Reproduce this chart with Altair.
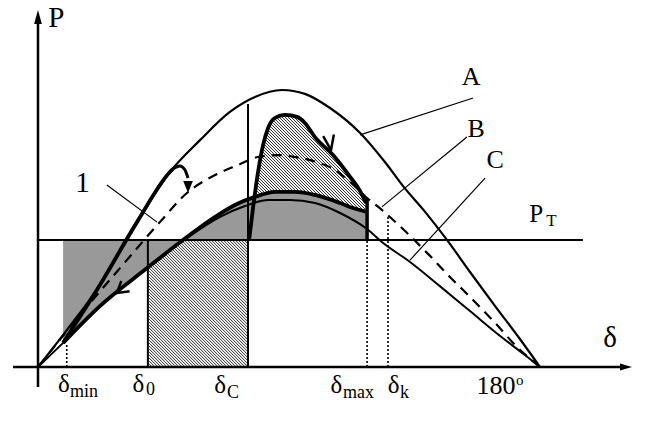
import altair as alt
import pandas as pd

# ---------------- data: load angle (deg) and power (relative, peak of A = 1) --------------
a_deg = [0, 10.4, 22.2, 35.5, 47.3, 58.1, 68.8, 77.8, 87.5, 95.7, 104.7, 115.5, 124.4, 130.9, 138.8, 146.7, 154.9, 163.9, 172.8, 180]
a_p = [0, 0.134, 0.296, 0.523, 0.704, 0.819, 0.921, 0.975, 1.0, 0.986, 0.935, 0.845, 0.740, 0.653, 0.560, 0.458, 0.343, 0.220, 0.101, 0]

b_deg = [0, 15.1, 29.4, 43.7, 53.4, 63.5, 71.7, 78.9, 86.1, 92.2, 98.6, 106.5, 111.9, 118.0, 123.3, 131.6, 139.5, 147.7, 156.0, 163.9, 171.8, 180]
b_p = [0, 0.188, 0.357, 0.523, 0.628, 0.693, 0.729, 0.758, 0.765, 0.758, 0.744, 0.711, 0.668, 0.610, 0.567, 0.491, 0.412, 0.325, 0.242, 0.159, 0.072, 0]

c_deg = [0, 9.0, 22.2, 39.1, 53.4, 65.3, 74.2, 82.5, 90.4, 99.3, 108.3, 118.0, 123.3, 133.4, 144.1, 154.9, 165.7, 174.6, 180]
c_p = [0, 0.087, 0.220, 0.357, 0.466, 0.542, 0.581, 0.603, 0.603, 0.592, 0.556, 0.498, 0.451, 0.379, 0.292, 0.202, 0.112, 0.043, 0]

# trajectory pieces (thick lines)
low_deg = [9.0, 22.2, 39.1, 53.4, 63.5, 70.6, 77.8, 85.0, 92.2, 99.3, 108.3, 112.9, 118.0]
low_p = [0.087, 0.220, 0.357, 0.469, 0.542, 0.585, 0.614, 0.632, 0.632, 0.621, 0.592, 0.574, 0.560]

hump_deg = [75.7, 77.1, 78.9, 80.7, 82.5, 85.0, 88.6, 92.9, 95.7, 99.3, 105.8, 111.9, 115.5, 117.6]
hump_p = [0.458, 0.574, 0.704, 0.801, 0.863, 0.899, 0.910, 0.903, 0.881, 0.830, 0.765, 0.686, 0.635, 0.592]

up_deg = [9.0, 22.2, 35.5, 47.3, 48.4]
up_p = [0.087, 0.296, 0.523, 0.704, 0.715]

hook_deg = [48.4, 50.9, 52.7, 53.8]
hook_p = [0.715, 0.726, 0.711, 0.682]

PT = 0.4585
d_min, d_0, d_c, d_max, d_k = 10.3, 39.4, 75.3, 118.0, 125.5
dc_top = 0.949
b_at_dmax = 0.610
b_at_dk = 0.547
low_at_dmin = 0.087

# labels: (angle, power, text)
main_big = [(6.6, 1.227, "P"), (205.1, 0.072, "δ"), (15.96, 0.632, "1")]
curve_lbl = [(155.3, 1.018, "A"), (157.1, 0.830, "B"), (163.9, 0.718, "C")]
pt_lbl = [(178.6, 0.523, "P")]
pt_sub = [(182.2, 0.509, "Т")]
x_delta = [(9.3, -0.090, "δ"), (36.0, -0.090, "δ"), (65.3, -0.094, "δ"), (107.0, -0.094, "δ"), (127.5, -0.094, "δ")]
x_sub = [(11.5, -0.108, "min"), (38.7, -0.101, "0"), (67.8, -0.112, "C"), (109.4, -0.112, "max"), (129.8, -0.112, "k")]
x_180 = [(164.2, -0.097, "180")]
x_deg = [(171.4, -0.065, "o")]

# leader lines (from label to curve)
leaders = [(24.7, 0.657, 42.7, 0.523), (156.0, 0.971, 115.5, 0.838),
           (153.8, 0.830, 123.3, 0.578), (160.3, 0.682, 133.4, 0.386)]

# ---------------- frame ----------------
W, H = 651, 423
X0, X1 = -13.625, 219.8
Y0, Y1 = -0.2022, 1.3249
xs = alt.Scale(domain=[X0, X1], nice=False, zero=False)
ys = alt.Scale(domain=[Y0, Y1], nice=False, zero=False)


def X(f="x"):
    return alt.X(f, type="quantitative", scale=xs, axis=None)


def Y(f="y"):
    return alt.Y(f, type="quantitative", scale=ys, axis=None)


def to_px(d):
    return (d - X0) / (X1 - X0) * W


def to_py(p):
    return (Y1 - p) / (Y1 - Y0) * H


def from_px(px):
    return X0 + px / W * (X1 - X0)


def from_py(py):
    return Y1 - py / H * (Y1 - Y0)


def hatch(d_lo, d_hi, p_lo, p_hi, step=3.0):
    x0, x1 = to_px(d_lo), to_px(d_hi)
    y0, y1 = to_py(p_hi), to_py(p_lo)
    rows = []
    c = y0 - x1
    while c < y1 - x0:
        sx = max(x0, y0 - c)
        ex = min(x1, y1 - c)
        if ex > sx:
            rows.append((from_px(sx), from_py(sx + c), from_px(ex), from_py(ex + c)))
        c += step
    return rows


def curve(deg, p, **mk):
    df = pd.DataFrame({"x": deg, "y": p})
    return alt.Chart(df).mark_line(interpolate="monotone", color="black", **mk).encode(x=X(), y=Y())


def segs(rows, **mk):
    df = pd.DataFrame(rows, columns=["x", "y", "x2", "y2"])
    return alt.Chart(df).mark_rule(color="black", **mk).encode(
        x=X(), y=Y(), x2=alt.X2("x2"), y2=alt.Y2("y2"))


def texts(rows, size, align="center"):
    df = pd.DataFrame(rows, columns=["x", "y", "t"])
    return alt.Chart(df).mark_text(font="Liberation Serif", fontSize=size, align=align,
                                   baseline="alphabetic", color="black").encode(
        x=X(), y=Y(), text="t:N")


def sym(x, y, shape, size, angle=0, filled=False, sw=2.0):
    df = pd.DataFrame({"x": [x], "y": [y]})
    return alt.Chart(df).mark_point(shape=shape, size=size, angle=angle, filled=filled,
                                    color="black", strokeWidth=sw, opacity=1).encode(x=X(), y=Y())


layers = []
# hatching (drawn first, then masked / overpainted)
hatch_rows = hatch(d_0 + 0.4, d_c - 0.3, 0.004, PT) + hatch(75.8, 117.5, PT, 0.925)
layers.append(segs(hatch_rows, strokeWidth=0.85))
# white mask above the hump
mask_df = pd.DataFrame({"x": hump_deg, "y": hump_p})
layers.append(alt.Chart(mask_df).mark_area(interpolate="monotone", color="white", orient="vertical", opacity=1)
              .encode(x=X(), y=Y(), y2=alt.datum(0.95)))
# stippled area between trajectory and P_T
low_df = pd.DataFrame({"x": low_deg, "y": low_p})
layers.append(alt.Chart(low_df).mark_area(interpolate="monotone", color="#999999", orient="vertical", opacity=1)
              .encode(x=X(), y=Y(), y2=alt.datum(PT)))

# P_T line and verticals
layers.append(segs([(0, PT, 195.4, PT)], strokeWidth=2))
layers.append(segs([(d_0, 0, d_0, PT), (d_c, 0, d_c, dc_top)], strokeWidth=2))
layers.append(segs([(d_min, 0, d_min, low_at_dmin), (d_max, 0, d_max, PT), (d_k, 0, d_k, b_at_dk)],
                   strokeWidth=1.6, strokeDash=[2, 2]))

# curves
layers.append(curve(a_deg, a_p, strokeWidth=2.2))
layers.append(curve(c_deg, c_p, strokeWidth=2))
layers.append(curve(b_deg, b_p, strokeWidth=2.2, strokeDash=[10, 7]))

# thick trajectory
layers.append(curve(up_deg, up_p, strokeWidth=3.8))
layers.append(curve(hook_deg, hook_p, strokeWidth=3))
layers.append(curve(low_deg, low_p, strokeWidth=3.8))
layers.append(curve(hump_deg, hump_p, strokeWidth=3.8))
layers.append(segs([(d_max, PT, d_max, b_at_dmax)], strokeWidth=3.5))

# arrowheads
layers.append(sym(53.8, 0.650, "M0,1L-0.8,-1L0.8,-1Z", 144, filled=True))
layers.append(sym(28.3, 0.267, "M1,-0.6L0,0L1,0.6", 484, angle=321, sw=2.5))
layers.append(sym(105.06, 0.783, "M1,-0.36L0,0L1,0.36", 900, angle=260.5, sw=2.5))

# leaders
layers.append(segs(leaders, strokeWidth=1.2))

# axes
layers.append(segs([(0, -0.072, 0, 1.238), (-8.96, 0, 209.7, 0)], strokeWidth=2.5))
layers.append(sym(0, 1.2635, "M0,-1L0.55,1L-0.55,1Z", 196, filled=True))
layers.append(sym(210.84, 0, "M1,0L-1,-0.6L-1,0.6Z", 144, filled=True))

# text
layers.append(texts(main_big, 29))
layers.append(texts(curve_lbl, 26))
layers.append(texts(pt_lbl, 25))
layers.append(texts(pt_sub, 17, align="left"))
layers.append(texts(x_delta, 25))
layers.append(texts(x_sub, 18, align="left"))
layers.append(texts(x_180, 26))
layers.append(texts(x_deg, 15, align="left"))

chart = alt.layer(*layers).properties(
    width=W, height=H, padding=0, background="white",
    autosize=alt.AutoSizeParams(type="none"),
).configure_view(stroke=None)

chart.save("out.html", embed_options={"renderer": "svg", "actions": False})
